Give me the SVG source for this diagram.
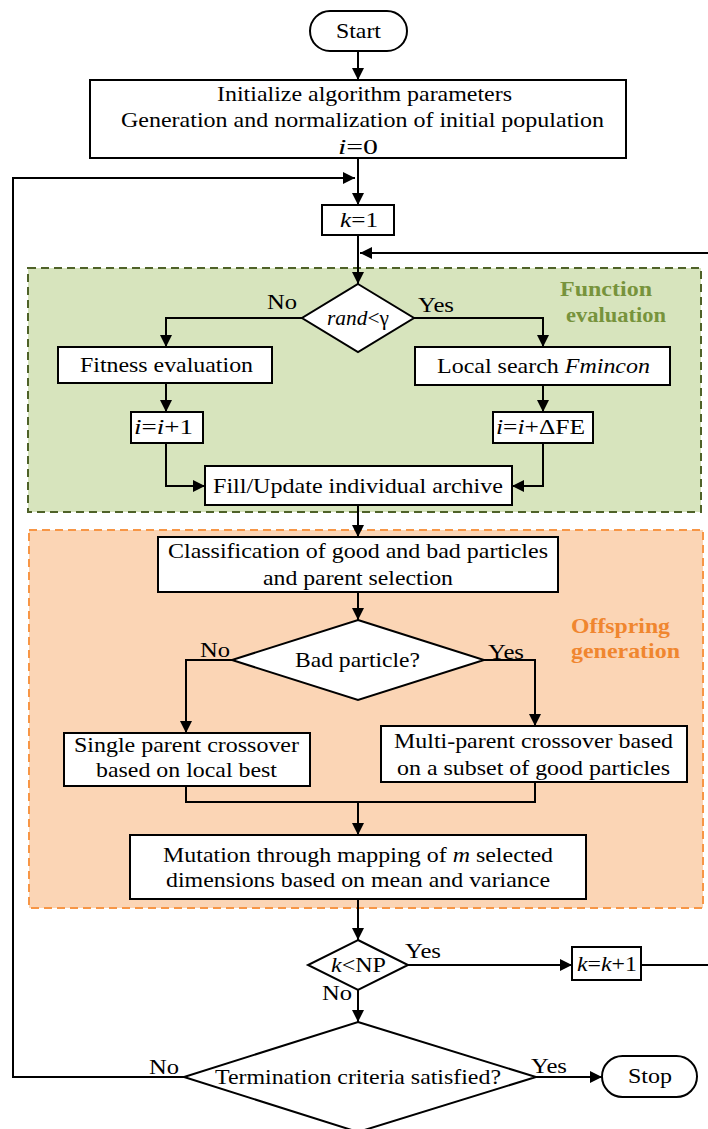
<svg xmlns="http://www.w3.org/2000/svg" width="708" height="1129" viewBox="0 0 708 1129">
<style>
text{font-family:"Liberation Serif","Times New Roman",serif;font-size:21px;fill:#000}
.c{text-anchor:middle}
.n{fill:#fff;stroke:#000;stroke-width:2}
.ln{fill:none;stroke:#000;stroke-width:2}
.lab{font-weight:bold;font-size:21px}
</style>
<defs>
<marker id="ah" viewBox="0 0 10 10" refX="10" refY="5" markerWidth="12" markerHeight="12" markerUnits="userSpaceOnUse" orient="auto"><path d="M0,0 L10,5 L0,10 z" fill="#000"/></marker>
</defs>
<g id="regions">
<rect x="28" y="268" width="673" height="244" fill="#d7e4bd" stroke="#4f6228" stroke-width="2" stroke-dasharray="8,5"/>
<text class="lab" x="560" y="296" textLength="92" lengthAdjust="spacingAndGlyphs" style="fill:#77933c">Function</text>
<text class="lab" x="566" y="322" textLength="100" lengthAdjust="spacingAndGlyphs" style="fill:#77933c">evaluation</text>
<rect x="29" y="530" width="674" height="378" fill="#fbd5b5" stroke="#f79646" stroke-width="2" stroke-dasharray="8,5"/>
<text class="lab" x="571" y="633" textLength="99" lengthAdjust="spacingAndGlyphs" style="fill:#f0862f">Offspring</text>
<text class="lab" x="571" y="658" textLength="109" lengthAdjust="spacingAndGlyphs" style="fill:#f0862f">generation</text>
</g>
<g id="connectors">
<path class="ln" d="M358,51 V80" marker-end="url(#ah)"/>
<path class="ln" d="M358,158 V205" marker-end="url(#ah)"/>
<path class="ln" d="M184,1077 H13 V178 H355" marker-end="url(#ah)"/>
<path class="ln" d="M358,235 V284" marker-end="url(#ah)"/>
<path class="ln" d="M641,965 H712 V253 H360" marker-end="url(#ah)"/>
<path class="ln" d="M302,318 H166 V347" marker-end="url(#ah)"/>
<path class="ln" d="M414,318 H543 V347" marker-end="url(#ah)"/>
<path class="ln" d="M166,383 V412" marker-end="url(#ah)"/>
<path class="ln" d="M543,385 V412" marker-end="url(#ah)"/>
<path class="ln" d="M166,443 V486 H205" marker-end="url(#ah)"/>
<path class="ln" d="M543,443 V486 H512" marker-end="url(#ah)"/>
<path class="ln" d="M358,505 V537" marker-end="url(#ah)"/>
<path class="ln" d="M358,592 V620" marker-end="url(#ah)"/>
<path class="ln" d="M232,660 H186 V733" marker-end="url(#ah)"/>
<path class="ln" d="M484,660 H535 V726" marker-end="url(#ah)"/>
<path class="ln" d="M186,786 V802 H535 V782"/>
<path class="ln" d="M358,802 V835" marker-end="url(#ah)"/>
<path class="ln" d="M358,899 V940" marker-end="url(#ah)"/>
<path class="ln" d="M408,965 H572" marker-end="url(#ah)"/>
<path class="ln" d="M358,990 V1022" marker-end="url(#ah)"/>
<path class="ln" d="M536,1077 H602" marker-end="url(#ah)"/>
<text x="267" y="309" textLength="30" lengthAdjust="spacingAndGlyphs">No</text>
<text x="418" y="312" textLength="36" lengthAdjust="spacingAndGlyphs">Yes</text>
<text x="200" y="657" textLength="30" lengthAdjust="spacingAndGlyphs">No</text>
<text x="488" y="659" textLength="36" lengthAdjust="spacingAndGlyphs">Yes</text>
<text x="405" y="958" textLength="36" lengthAdjust="spacingAndGlyphs">Yes</text>
<text x="322" y="1000" textLength="30" lengthAdjust="spacingAndGlyphs">No</text>
<text x="149" y="1074" textLength="30" lengthAdjust="spacingAndGlyphs">No</text>
<text x="531" y="1073" textLength="36" lengthAdjust="spacingAndGlyphs">Yes</text>
</g>
<g id="start">
<rect class="n" x="310" y="11" width="97" height="40" rx="20"/>
<text class="c" x="358.5" y="38" textLength="45" lengthAdjust="spacingAndGlyphs">Start</text>
</g>
<g id="init">
<rect class="n" x="90" y="80" width="536" height="78"/>
<text class="c" x="364.5" y="101" textLength="295" lengthAdjust="spacingAndGlyphs">Initialize algorithm parameters</text>
<text class="c" x="362.5" y="127" textLength="483" lengthAdjust="spacingAndGlyphs">Generation and normalization of initial population</text>
<text class="c" x="358" y="154" textLength="40" lengthAdjust="spacingAndGlyphs"><tspan font-style="italic">i</tspan>=0</text>
</g>
<g id="k1">
<rect class="n" x="322" y="205" width="72" height="30"/>
<text class="c" x="359" y="227" textLength="38" lengthAdjust="spacingAndGlyphs"><tspan font-style="italic">k</tspan>=1</text>
</g>
<g id="rand">
<polygon class="n" points="358,284 414,318 358,352 302,318"/>
<text class="c" x="358" y="325" textLength="62" lengthAdjust="spacingAndGlyphs"><tspan font-style="italic">rand</tspan>&lt;γ</text>
</g>
<g id="fitness">
<rect class="n" x="58" y="347" width="214" height="36"/>
<text class="c" x="166.5" y="372" textLength="173" lengthAdjust="spacingAndGlyphs">Fitness evaluation</text>
</g>
<g id="local">
<rect class="n" x="415" y="347" width="255" height="38"/>
<text class="c" x="543.5" y="373" textLength="213" lengthAdjust="spacingAndGlyphs">Local search <tspan font-style="italic">Fmincon</tspan></text>
</g>
<g id="inc1">
<rect class="n" x="131" y="412" width="72" height="31"/>
<text class="c" x="163.5" y="434" textLength="59" lengthAdjust="spacingAndGlyphs"><tspan font-style="italic">i</tspan>=<tspan font-style="italic">i</tspan>+1</text>
</g>
<g id="incfe">
<rect class="n" x="493" y="412" width="100" height="31"/>
<text class="c" x="540.5" y="434" textLength="89" lengthAdjust="spacingAndGlyphs"><tspan font-style="italic">i</tspan>=<tspan font-style="italic">i</tspan>+ΔFE</text>
</g>
<g id="archive">
<rect class="n" x="205" y="466" width="307" height="39"/>
<text class="c" x="358" y="493" textLength="290" lengthAdjust="spacingAndGlyphs">Fill/Update individual archive</text>
</g>
<g id="classify">
<rect class="n" x="158" y="537" width="400" height="55"/>
<text class="c" x="358" y="558" textLength="380" lengthAdjust="spacingAndGlyphs">Classification of good and bad particles</text>
<text class="c" x="358" y="585" textLength="190" lengthAdjust="spacingAndGlyphs">and parent selection</text>
</g>
<g id="bad">
<polygon class="n" points="358,620 484,660 358,700 232,660"/>
<text class="c" x="357.5" y="667" textLength="125" lengthAdjust="spacingAndGlyphs">Bad particle?</text>
</g>
<g id="single">
<rect class="n" x="64" y="733" width="246" height="53"/>
<text class="c" x="186.5" y="752" textLength="225" lengthAdjust="spacingAndGlyphs">Single parent crossover</text>
<text class="c" x="186.5" y="777" textLength="181" lengthAdjust="spacingAndGlyphs">based on local best</text>
</g>
<g id="multi">
<rect class="n" x="381" y="726" width="306" height="56"/>
<text class="c" x="533.5" y="748" textLength="279" lengthAdjust="spacingAndGlyphs">Multi-parent crossover based</text>
<text class="c" x="533.5" y="775" textLength="273" lengthAdjust="spacingAndGlyphs">on a subset of good particles</text>
</g>
<g id="mutation">
<rect class="n" x="130" y="835" width="456" height="64"/>
<text class="c" x="358" y="862" textLength="390" lengthAdjust="spacingAndGlyphs">Mutation through mapping of <tspan font-style="italic">m</tspan> selected</text>
<text class="c" x="358" y="887" textLength="384" lengthAdjust="spacingAndGlyphs">dimensions based on mean and variance</text>
</g>
<g id="knp">
<polygon class="n" points="358,940 408,965 358,990 308,965"/>
<text class="c" x="358.5" y="972" textLength="55" lengthAdjust="spacingAndGlyphs"><tspan font-style="italic">k</tspan>&lt;NP</text>
</g>
<g id="kinc">
<rect class="n" x="572" y="947" width="69" height="33"/>
<text class="c" x="607" y="971" textLength="60" lengthAdjust="spacingAndGlyphs"><tspan font-style="italic">k</tspan>=<tspan font-style="italic">k</tspan>+1</text>
</g>
<g id="term">
<polygon class="n" points="358,1022 536,1077 358,1132 184,1077"/>
<text class="c" x="358" y="1084" textLength="286" lengthAdjust="spacingAndGlyphs">Termination criteria satisfied?</text>
</g>
<g id="stop">
<rect class="n" x="602" y="1056" width="95" height="41" rx="20.5"/>
<text class="c" x="650" y="1083" textLength="44" lengthAdjust="spacingAndGlyphs">Stop</text>
</g>
</svg>
